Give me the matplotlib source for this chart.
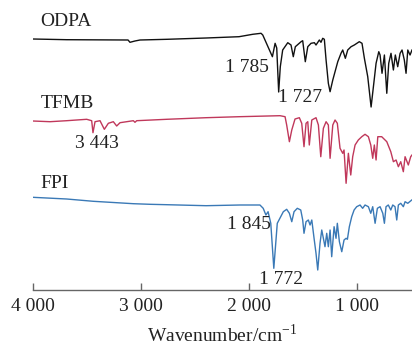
import numpy as np
import matplotlib
matplotlib.use('Agg')
import matplotlib.pyplot as plt
from matplotlib.ticker import FuncFormatter

plt.rcParams['font.family'] = ['Liberation Serif', 'DejaVu Serif']
plt.rcParams['mathtext.fontset'] = 'custom'
plt.rcParams['mathtext.rm'] = 'Liberation Serif'

# ODPA spectrum: wavenumber (cm-1) and relative transmittance
odpa_wn = [4000, 3686, 3119, 3101, 3055, 3008, 2759, 2398, 2093, 1967, 1890, 1874,
           1785, 1760, 1745, 1727, 1712, 1690, 1643, 1613, 1592, 1573, 1520, 1505,
           1481, 1458, 1428, 1397, 1382, 1351, 1336, 1320, 1305, 1289, 1268, 1252,
           1227, 1181, 1151, 1135, 1111, 1089, 1058, 1028, 982, 957, 935, 904, 873,
           848, 827, 802, 790, 772, 750, 728, 710, 689, 667, 649, 627, 605, 587,
           566, 550, 534, 513, 495]
odpa_t = [0, -0.7, -1, -3.3, -2, -1, -0.3, 1, 2.3, 4.7, 5.7, 4,
          -17.7, -4.3, -9, -53, -27.7, -11, -3.7, -6, -17.7, -7.7, -2.7, -1.7,
          -22.7, -7.7, -4.3, -3.7, -6, -1, -3.3, 0.7, -0.3, -21, -44.3, -52.7,
          -41, -22.7, -14.3, -11, -19.3, -11, -7.7, -6, -2.7, -4.3, -19.3, -37.7, -68,
          -44.3, -24.3, -12.7, -16, -34.3, -16, -54.3, -24.3, -14.3, -31, -16, -27.7, -14.3, -11,
          -21, -34.3, -11, -16, -11]

# TFMB spectrum
tfmb_wn = [4000, 3840, 3686, 3501, 3455, 3443, 3424, 3378, 3338, 3301, 3255, 3224,
           3193, 3070, 3055, 3039, 2762, 2398, 2091, 1714, 1668, 1653, 1628, 1606,
           1576, 1536, 1514, 1493, 1474, 1458, 1444, 1421, 1382, 1360, 1338, 1314,
           1289, 1268, 1252, 1227, 1206, 1185, 1160, 1135, 1123, 1104, 1083, 1061,
           1043, 1021, 991, 959, 929, 898, 876, 858, 843, 827, 811, 775, 728, 691,
           667, 642, 621, 599, 575, 559, 529, 507, 495]
tfmb_t = [0, -0.7, 0.3, 1.7, 0.3, -11.7, -0.7, 0.3, -8.3, -2.3, -0.7, -5,
          -1.7, 0.3, -1.3, 0.3, 1.7, 3.3, 4.3, 5.3, 4.3, -4, -20.7, -9,
          2, 3.3, -2.3, -25.7, -2.3, -0.7, -24, 1, 3.3, -4, -35.7, -7.3,
          -0.7, -4, -37.3, -4, 1, -2.3, -27.3, -32.3, -29, -62.3, -32.3, -54,
          -35.7, -24, -19, -15.7, -13.3, -15.7, -24, -37.3, -24, -39, -15.7, -15.7, -20.7, -30.7,
          -40.7, -39, -45.7, -40.7, -50.7, -35.7, -44, -35.7, -34]

# FPI spectrum
fpi_wn = [4000, 3686, 3440, 3070, 2916, 2762, 2398, 2084, 1900, 1870, 1845, 1825,
          1800, 1772, 1740, 1684, 1653, 1628, 1606, 1585, 1555, 1523, 1505, 1493,
          1474, 1453, 1437, 1421, 1400, 1382, 1366, 1345, 1329, 1314, 1299, 1283,
          1268, 1252, 1237, 1215, 1197, 1185, 1166, 1144, 1123, 1104, 1092, 1074,
          1052, 1030, 1006, 975, 951, 929, 898, 876, 858, 836, 815, 790, 765, 750,
          735, 714, 691, 673, 652, 636, 621, 599, 575, 559, 534, 497]
fpi_t = [0, -1.7, -4, -6.4, -7, -7.4, -8.4, -7.7, -7.7, -11, -17.7, -14.4,
         -26, -71, -26, -14.4, -12, -16, -24.4, -14.4, -11, -12.7, -22.7, -36,
         -24.4, -22.7, -27.7, -22.7, -41, -56, -72.7, -46, -32.7, -41, -49.4, -36,
         -49.4, -32.7, -59.4, -29.4, -41, -26, -44.4, -54.4, -42.7, -41, -42, -29.4,
         -19.4, -12.7, -9.4, -7.7, -11, -7.7, -9.4, -16, -9.4, -26, -11, -9.4, -16, -26,
         -9.4, -7.7, -12.7, -7.7, -9.4, -22.7, -7.7, -6, -9.4, -4.4, -6, -2.7]

names = ['ODPA', 'TFMB', 'FPI']
colors = ['#111111', '#c0385b', '#3a79b6']
offsets = [250.5, 168.5, 92.2]

fig = plt.figure(figsize=(4.12, 3.46), dpi=100)
ax = fig.add_axes([32.7 / 412, 56.5 / 346, 1 - 32.7 / 412, 289.5 / 346])

spectra = [(odpa_wn, odpa_t), (tfmb_wn, tfmb_t), (fpi_wn, fpi_t)]
for (wn, t), off, c in zip(spectra, offsets, colors):
    ax.plot(wn, np.array(t) + off, color=c, lw=1.0, solid_joinstyle='round')

ax.set_xlim(4000, 495)
ax.set_ylim(0, 289.5)

# sample names
name_pos = [(3933, 267.8), (3926, 186.5), (3933, 106.5)]
for name, (x, y) in zip(names, name_pos):
    ax.text(x, y, name, fontsize=14, va='center', ha='left', color='#222222')

# peak labels
peaks = [('3 443', 3609, 146.5, 'left'),
         ('1 785', 1819, 221.5, 'right'),
         ('1 727', 1736, 191.5, 'left'),
         ('1 845', 1798, 64.8, 'right'),
         ('1 772', 1909, 9.8, 'left')]
for s, x, y, ha in peaks:
    ax.text(x, y, s, fontsize=14, va='center', ha=ha, color='#222222')

for side in ['top', 'right', 'left']:
    ax.spines[side].set_visible(False)
ax.spines['bottom'].set_color('#666666')
ax.spines['bottom'].set_linewidth(1.0)
ax.set_yticks([])
ax.set_xticks([4000, 3000, 2000, 1000])
ax.xaxis.set_major_formatter(FuncFormatter(lambda v, p: f'{int(v):,}'.replace(',', ' ')))
ax.tick_params(axis='x', direction='in', length=5, width=1.0, color='#666666',
               labelsize=14, labelcolor='#222222', pad=6)
ax.set_xlabel(r'Wavenumber/cm$^{-1}$', fontsize=14, color='#222222', labelpad=6)

fig.savefig('out.png', dpi=100)
